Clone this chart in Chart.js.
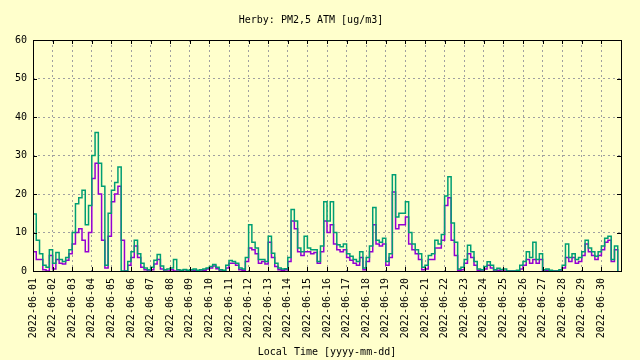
<!DOCTYPE html>
<html>
<head>
<meta charset="utf-8">
<script src="https://cdn.jsdelivr.net/npm/chart.js@4/dist/chart.umd.min.js"></script>
<style>
  html, body { margin: 0; padding: 0; background: #ffffcc; }
  canvas { display: block; }
</style>
</head>
<body>
<canvas id="chart" width="640" height="360"></canvas>
<script>
// Herby PM2,5 ATM - June 2022, one sample every 4 hours

const dayLabels = [
  '2022-06-01', '2022-06-02', '2022-06-03', '2022-06-04', '2022-06-05',
  '2022-06-06', '2022-06-07', '2022-06-08', '2022-06-09', '2022-06-10',
  '2022-06-11', '2022-06-12', '2022-06-13', '2022-06-14', '2022-06-15',
  '2022-06-16', '2022-06-17', '2022-06-18', '2022-06-19', '2022-06-20',
  '2022-06-21', '2022-06-22', '2022-06-23', '2022-06-24', '2022-06-25',
  '2022-06-26', '2022-06-27', '2022-06-28', '2022-06-29', '2022-06-30'
];
const yTicks = [0, 10, 20, 30, 40, 50, 60];
const stepHours = 4;

// canal B (zielony)
const pmGreen = [
  14.8, 8, 4.5, 1.5, 1, 5.5,
  2, 4.8, 3, 2.5, 3.5, 5.5,
  10, 17.5, 19, 21, 12, 17,
  30, 36, 28, 22, 1.5, 15,
  21, 23, 27, 0, 0, 2.5,
  5, 8, 4.5, 2, 0.8, 0.3,
  1, 2.8, 4.3, 1.3, 0.3, 0.5,
  0.8, 3, 0.3, 0.2, 0.4, 0.2,
  0.3, 0.5, 0.2, 0.3, 0.5, 0.8,
  1.2, 1.7, 1, 0.3, 0.2, 1.5,
  2.7, 2.5, 2, 0.8, 0.5, 3.5,
  12, 7.5, 6, 3, 3, 2.5,
  9, 4.6, 2, 0.8, 0.5, 0.6,
  3.5, 16, 13, 6, 5, 9,
  6, 5.5, 5.5, 2.5, 6.5, 18,
  13, 18, 10, 6.8, 6.3, 7,
  4.5, 3.8, 3, 2.5, 5, 0.8,
  3.5, 6.5, 16.5, 8, 7.5, 8.5,
  2.5, 4.5, 25, 14, 15, 15,
  18, 10, 7, 5.5, 4.5, 1,
  1.5, 4, 4.5, 8, 7, 9.5,
  19.5, 24.5, 12.5, 7.5, 0.5, 1,
  3, 6.7, 5, 2.5, 0.5, 0.3,
  1.2, 2.4, 1.5, 0.3, 0.7, 0.4,
  0.5, 0, 0, 0, 0.2, 1.5,
  2.5, 5, 3.5, 7.5, 3, 4.5,
  0.3, 0.5, 0.2, 0, 0, 0.3,
  1.5, 7, 3.5, 4.5, 3, 3.5,
  5, 8, 6, 5, 3.8, 5,
  6.5, 8.5, 9, 3, 6.5, 0
];

// canal A (fioletowy)
const pmPurple = [
  5, 3, 3, 0.3, 0, 4,
  0.5, 3, 2, 1.8, 2.8, 4.5,
  7, 10, 11, 8, 5, 10,
  24, 28, 20, 8, 0.8, 9,
  18, 20, 22, 8, 0, 1.5,
  3.5, 6.5, 3.5, 1, 0.3, 0,
  0.3, 1.8, 3, 0.5, 0, 0,
  0.3, 0, 0, 0, 0.3, 0,
  0, 0.2, 0, 0, 0.2, 0.5,
  0.8, 1.3, 0.6, 0, 0, 0.8,
  2, 2, 1.5, 0.3, 0.2, 2.5,
  6, 5.5, 4.5, 2, 2.5, 1.8,
  7.5, 3.5, 1.2, 0.3, 0.2, 0.3,
  2.5, 13, 11, 5, 4, 5,
  5, 4.5, 4.8, 2, 5, 13,
  10, 12, 7, 5.5, 5, 5.5,
  3.5, 2.8, 2, 1.5, 3.5, 0.3,
  2.5, 5, 12, 7, 6.5, 7,
  1.5, 3.5, 20.5, 11, 12, 12,
  14, 7, 5.5, 4.5, 3, 0.3,
  0.5, 3, 3, 6, 6, 8,
  17, 19, 8, 4, 0.2, 0.3,
  2, 4.5, 3.5, 1.5, 0.2, 0,
  0.5, 1.5, 0.8, 0, 0.2, 0,
  0, 0, 0, 0, 0, 0.5,
  1.5, 3, 2, 3, 2, 3,
  0, 0.2, 0, 0, 0, 0,
  0.8, 3.5, 2.5, 3.5, 2, 2.5,
  4, 7, 5, 4, 3, 4,
  5.5, 7.5, 8, 2.5, 5.5, 0
];

const FONT = 'DejaVu Sans Mono';
const toPoints = arr => arr.map((v, i) => ({ x: i * stepHours / 24, y: v }));

// ramka i ząbki do środka jak w gnuplocie
const frameTics = {
  id: 'frameTics',
  afterDraw(chart) {
    const { ctx, chartArea: a, scales } = chart;
    const len = 4;
    ctx.save();
    ctx.strokeStyle = '#000';
    ctx.lineWidth = 1;
    ctx.beginPath();
    yTicks.forEach(t => {
      const y = Math.round(scales.y.getPixelForValue(t)) + 0.5;
      ctx.moveTo(a.left, y); ctx.lineTo(a.left + len, y);
      ctx.moveTo(a.right, y); ctx.lineTo(a.right - len, y);
    });
    for (let d = 0; d <= dayLabels.length; d++) {
      const x = Math.round(scales.x.getPixelForValue(d)) + 0.5;
      ctx.moveTo(x, a.bottom); ctx.lineTo(x, a.bottom - len);
      ctx.moveTo(x, a.top); ctx.lineTo(x, a.top + len);
    }
    ctx.stroke();
    ctx.strokeRect(Math.round(a.left) + 0.5, Math.round(a.top) + 0.5,
      Math.round(a.right - a.left), Math.round(a.bottom - a.top));
    ctx.restore();
  }
};

new Chart(document.getElementById('chart'), {
  type: 'line',
  data: {
    datasets: [{
      label: 'B',
      data: toPoints(pmGreen),
      borderColor: '#009e73',
      borderWidth: 1.5,
      pointRadius: 0,
      stepped: 'before'
    }, {
      label: 'A',
      data: toPoints(pmPurple),
      borderColor: '#9400d3',
      borderWidth: 1.5,
      pointRadius: 0,
      stepped: 'before'
    }]
  },
  options: {
    responsive: false,
    animation: false,
    layout: { padding: { left: 0, right: 18, top: 0, bottom: 0 } },
    plugins: {
      legend: { display: false },
      tooltip: { enabled: false },
      title: {
        display: true,
        text: 'Herby: PM2,5 ATM [ug/m3]',
        color: '#000',
        font: { family: FONT, size: 10, weight: 'normal' },
        padding: { top: 14, bottom: 14 }
      }
    },
    scales: {
      x: {
        type: 'linear',
        min: 0,
        max: 30,
        afterFit: s => { s.height = 89; },
        ticks: {
          stepSize: 1,
          autoSkip: false,
          minRotation: 90,
          maxRotation: 90,
          padding: 7,
          color: '#000',
          font: { family: FONT, size: 10 },
          callback: v => dayLabels[v] || ''
        },
        grid: { color: '#a0a0a0', drawTicks: false },
        border: { display: false, dash: [2, 3] },
        title: {
          display: true,
          text: 'Local Time [yyyy-mm-dd]',
          color: '#000',
          font: { family: FONT, size: 10 },
          padding: { top: 0, bottom: 2 }
        }
      },
      y: {
        min: 0,
        max: 60,
        afterFit: s => { s.width = 33; },
        ticks: {
          stepSize: 10,
          padding: 6,
          color: '#000',
          font: { family: FONT, size: 10 }
        },
        grid: { color: '#a0a0a0', drawTicks: false },
        border: { display: false, dash: [2, 3] }
      }
    }
  },
  plugins: [frameTics]
});
</script>
</body>
</html>
